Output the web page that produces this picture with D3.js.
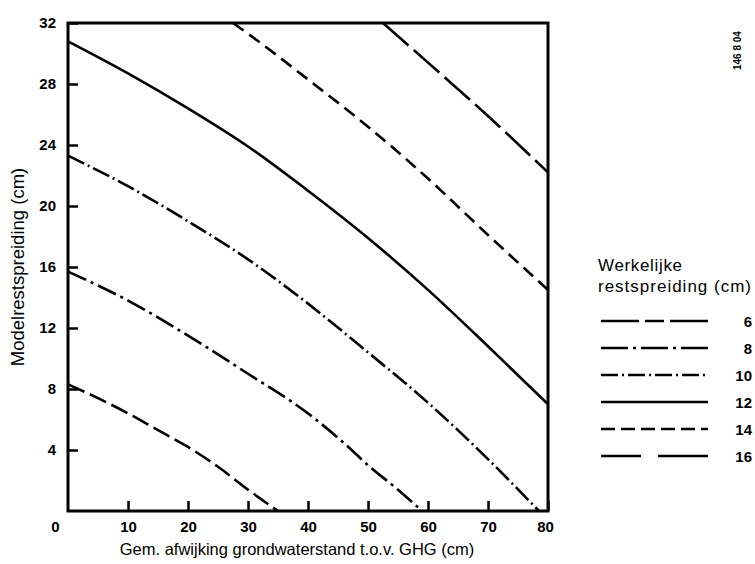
<!DOCTYPE html>
<html>
<head>
<meta charset="utf-8">
<script src="https://cdn.jsdelivr.net/npm/d3@7"></script>
<style>
  html, body { margin: 0; padding: 0; background: #fff; }
  svg { display: block; }
  text { font-family: "Liberation Sans", Arial, Helvetica, sans-serif; fill: #000; }
</style>
</head>
<body>
<svg id="chart" width="755" height="564"></svg>
<script>
// Werkelijke restspreiding (cm) per curve, with points [afwijking, modelrestspreiding]
const levels = [6, 8, 10, 12, 14, 16];
const curve6  = [[0, 8.3], [5, 7.4], [10, 6.4], [15, 5.3], [20, 4.2], [25, 2.9], [30, 1.4], [35, 0]];
const curve8  = [[0, 15.7], [10, 13.8], [20, 11.5], [30, 9.0], [40, 6.4], [47, 4.1], [50, 3.0], [55, 1.4], [59, 0]];
const curve10 = [[0, 23.3], [10, 21.3], [20, 19.0], [30, 16.5], [40, 13.6], [50, 10.4], [60, 7.1], [70, 3.4], [78.5, 0]];
const curve12 = [[0, 30.8], [10, 28.7], [20, 26.4], [30, 23.9], [40, 21.0], [50, 17.9], [60, 14.5], [70, 10.8], [80, 7.0]];
const curve14 = [[27.5, 32], [30, 31.3], [40, 28.3], [50, 25.2], [60, 21.8], [70, 18.1], [80, 14.5]];
const curve16 = [[52.5, 32], [60, 29.4], [70, 25.9], [80, 22.2]];
const curves = [curve6, curve8, curve10, curve12, curve14, curve16];

// dash patterns in the plot and in the legend keys
const dashes = ["18 6", "20 5 3 5", "18 4 2 4", null, "13 7", "34 7"];
const legendDashes = ["38 6 19 6", "27 5 3 5", "17 4 2 4", null, "14 6", "40 17 60"];

const xTicks = [0, 10, 20, 30, 40, 50, 60, 70, 80];
const yTicks = [4, 8, 12, 16, 20, 24, 28, 32];

const xTitle = "Gem. afwijking grondwaterstand t.o.v. GHG (cm)";
const yTitle = "Modelrestspreiding (cm)";
const legendTitle = ["Werkelijke", "restspreiding (cm)"];
const figureCode = "146 8 04";

const svg = d3.select("#chart");
const plotLeft = 68, plotRight = 548, plotTop = 23, plotBottom = 511;

const x = d3.scaleLinear().domain([0, 80]).range([plotLeft, plotRight]);
const y = d3.scaleLinear().domain([0, 32]).range([plotBottom, plotTop]);

// curves
const line = d3.line()
  .x(d => x(d[0]))
  .y(d => y(d[1]))
  .curve(d3.curveMonotoneX);

svg.append("g")
  .selectAll("path")
  .data(curves)
  .join("path")
  .attr("d", line)
  .attr("fill", "none")
  .attr("stroke", "#000")
  .attr("stroke-width", 2.6)
  .attr("stroke-dasharray", (d, i) => dashes[i]);

// y axis ticks (inward) and labels
const yAxis = d3.axisLeft(y).tickValues(yTicks).tickSize(-10).tickPadding(12).tickFormat(d3.format("d"));
const gy = svg.append("g").attr("transform", `translate(${plotLeft},0)`).call(yAxis);
gy.select(".domain").remove();
gy.selectAll(".tick line").attr("stroke", "#000").attr("stroke-width", 2.5);
gy.selectAll(".tick text")
  .attr("font-size", 15).attr("font-weight", "bold").attr("fill", "#000");

// x axis ticks (inward) and labels
const xAxis = d3.axisBottom(x).tickValues(xTicks).tickSize(-10).tickPadding(10).tickFormat(d3.format("d"));
const gx = svg.append("g").attr("transform", `translate(0,${plotBottom})`).call(xAxis);
gx.select(".domain").remove();
gx.selectAll(".tick line").attr("stroke", "#000").attr("stroke-width", 2.5);
gx.selectAll(".tick text")
  .attr("font-size", 15).attr("font-weight", "bold").attr("fill", "#000")
  .attr("dx", d => d === 0 ? -13 : (d === 80 ? -3 : 0));
gx.selectAll(".tick").filter(d => d === 0).select("line").remove();

// frame
svg.append("rect")
  .attr("x", plotLeft).attr("y", plotTop)
  .attr("width", plotRight - plotLeft).attr("height", plotBottom - plotTop)
  .attr("fill", "none").attr("stroke", "#000").attr("stroke-width", 3);

// axis titles
svg.append("text")
  .attr("x", 297).attr("y", 555)
  .attr("text-anchor", "middle")
  .attr("font-size", 16.5)
  .text(xTitle);

svg.append("text")
  .attr("transform", "translate(24,267) rotate(-90)")
  .attr("text-anchor", "middle")
  .attr("font-size", 18.5)
  .text(yTitle);

// legend
const lg = svg.append("g");
lg.selectAll("text.title")
  .data(legendTitle)
  .join("text")
  .attr("class", "title")
  .attr("x", 598)
  .attr("y", (d, i) => 271 + i * 21)
  .attr("font-size", 17)
  .attr("textLength", (d, i) => i === 0 ? 84 : 153)
  .attr("lengthAdjust", "spacing")
  .text(d => d);

const legendY = d3.scalePoint().domain(levels).range([321, 456]);
const rows = lg.selectAll("g.row")
  .data(levels)
  .join("g")
  .attr("class", "row")
  .attr("transform", d => `translate(0,${legendY(d)})`);

rows.append("line")
  .attr("x1", 601).attr("x2", 708)
  .attr("stroke", "#000")
  .attr("stroke-width", 2.4)
  .attr("stroke-dasharray", (d, i) => legendDashes[i]);

rows.append("text")
  .attr("x", 752).attr("y", 5.5)
  .attr("text-anchor", "end")
  .attr("font-size", 15)
  .attr("font-weight", "bold")
  .text(d => d);

// figure code, printed vertically
svg.append("text")
  .attr("transform", "translate(741,70) rotate(-90)")
  .attr("font-size", 10)
  .attr("font-weight", "bold")
  .text(figureCode);
</script>
</body>
</html>
